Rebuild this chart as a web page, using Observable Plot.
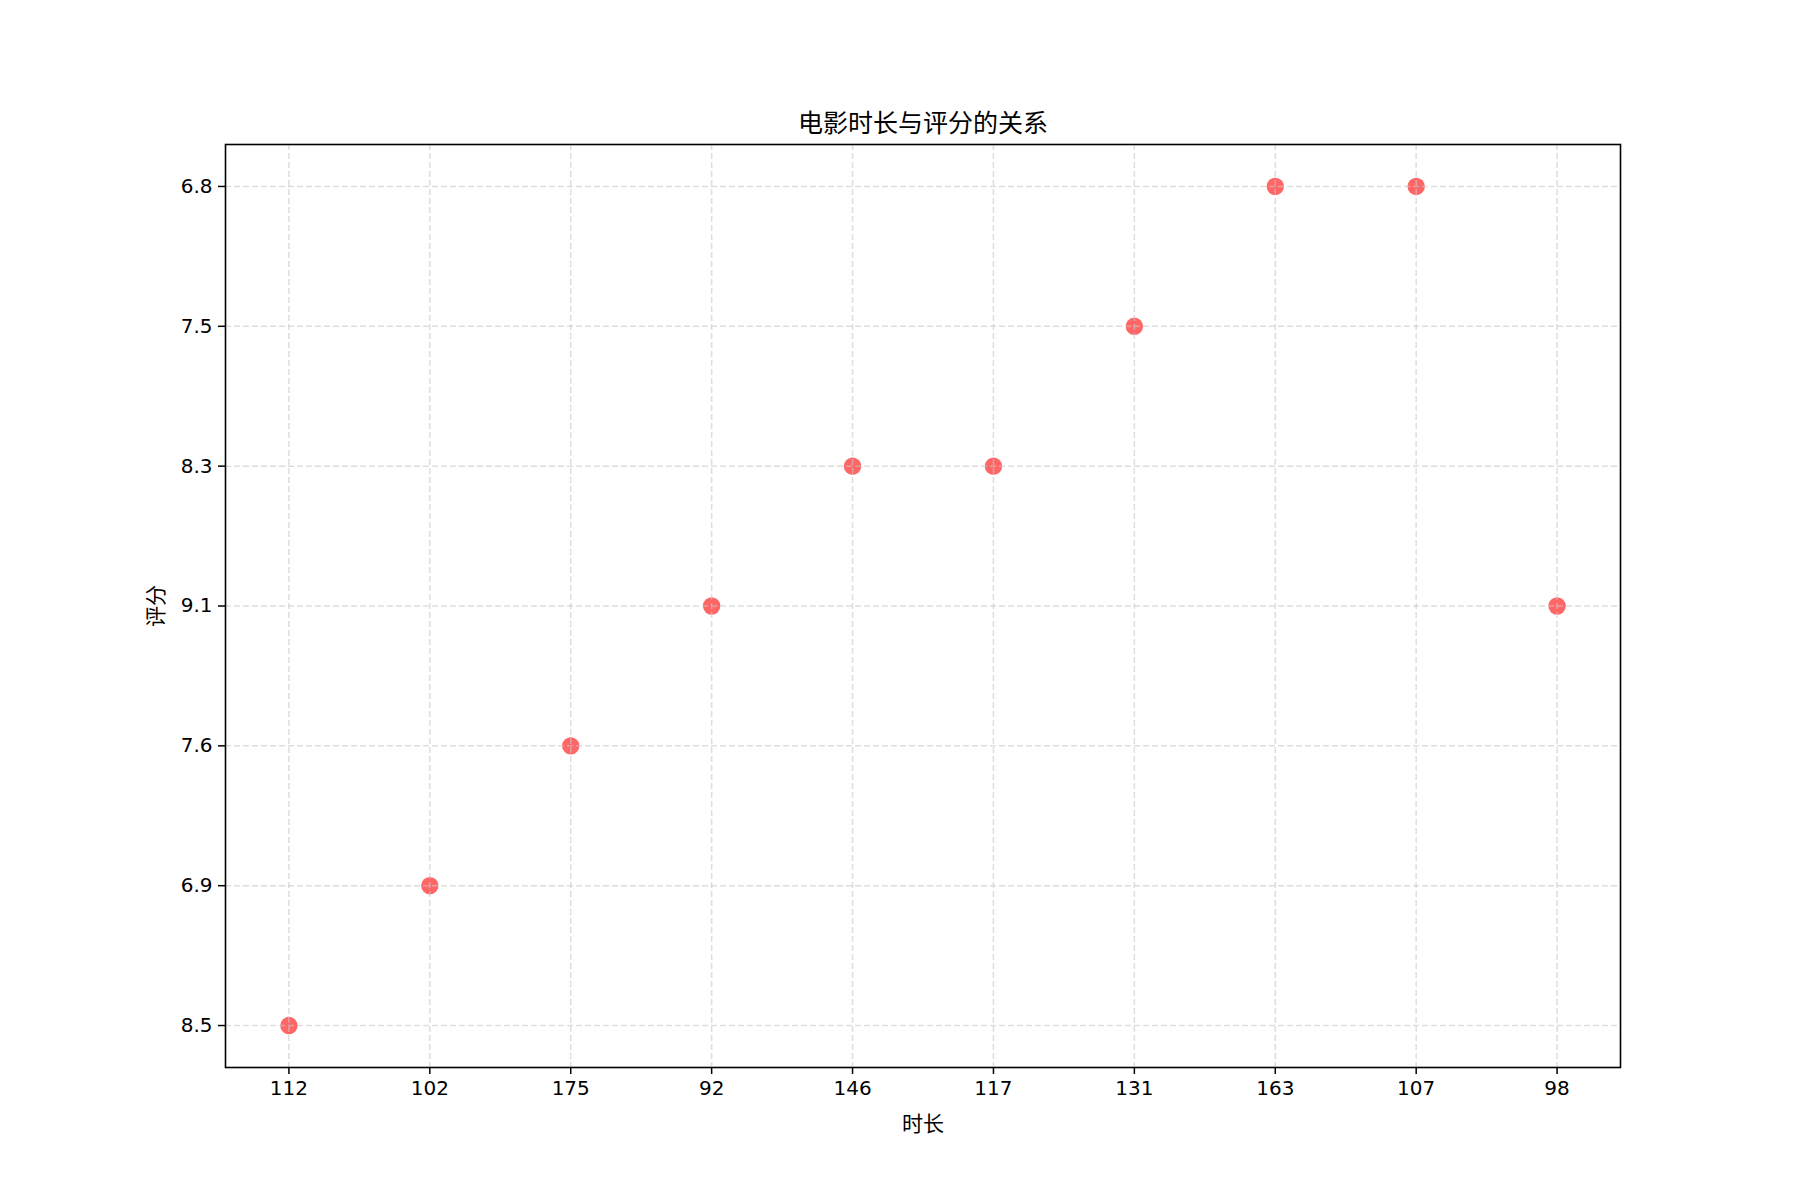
<!DOCTYPE html>
<html>
<head>
<meta charset="utf-8">
<script src="https://cdn.jsdelivr.net/npm/d3@7"></script>
<script src="https://cdn.jsdelivr.net/npm/@observablehq/plot@0.6"></script>
<style>
  html, body { margin: 0; padding: 0; background: #fff; }
  #chart svg { display: block; }
</style>
</head>
<body>
<div id="chart"></div>
<script>
// Data
const xCategories = ["112", "102", "175", "92", "146", "117", "131", "163", "107", "98"];
const yValues = ["8.5", "6.9", "7.6", "9.1", "8.3", "8.3", "7.5", "6.8", "6.8", "9.1"];
const yOrder = ["8.5", "6.9", "7.6", "9.1", "8.3", "7.5", "6.8"]; // bottom to top
const titleText = "电影时长与评分的关系";
const xLabelText = "时长";
const yLabelText = "评分";

const data = xCategories.map((x, i) => ({x, y: yValues[i]}));
const font = "'DejaVu Sans', 'Noto Sans CJK SC', sans-serif";

const chart = Plot.plot({
  width: 1800,
  height: 1200,
  marginLeft: 225,
  marginRight: 180,
  marginTop: 144,
  marginBottom: 133,
  style: {fontFamily: font, fontSize: "20px", color: "#000", background: "#fff"},
  x: {type: "point", domain: xCategories, padding: 0.45, round: false},
  y: {type: "point", domain: yOrder, reverse: true, padding: 0.3, round: false},
  marks: [
    Plot.dot(data, {x: "x", y: "y", r: 8.7, fill: "#ff6666", stroke: "none"}),
    Plot.gridX({stroke: "#c8c8c8", strokeOpacity: 0.6, strokeWidth: 1.5, strokeDasharray: "6,3"}),
    Plot.gridY({stroke: "#c8c8c8", strokeOpacity: 0.6, strokeWidth: 1.5, strokeDasharray: "6,3"}),
    Plot.axisX({tickSize: 7, tickPadding: 6, fontSize: 20, label: null, stroke: "#000", strokeWidth: 1.5}),
    Plot.axisY({tickSize: 7, tickPadding: 6, fontSize: 20, label: null, stroke: "#000", strokeWidth: 1.5}),
    Plot.frame({stroke: "#000", strokeWidth: 1.6}),
    Plot.text([titleText], {frameAnchor: "top", dy: -21, fontSize: 25, fill: "#000", lineAnchor: "middle", textAnchor: "middle"}),
    Plot.text([xLabelText], {frameAnchor: "bottom", dy: 57, fontSize: 21, fill: "#000", lineAnchor: "middle", textAnchor: "middle"}),
    Plot.text([yLabelText], {frameAnchor: "left", dx: -69, rotate: -90, fontSize: 21, fill: "#000", lineAnchor: "middle", textAnchor: "middle"})
  ]
});
document.getElementById("chart").appendChild(chart);
</script>
</body>
</html>
